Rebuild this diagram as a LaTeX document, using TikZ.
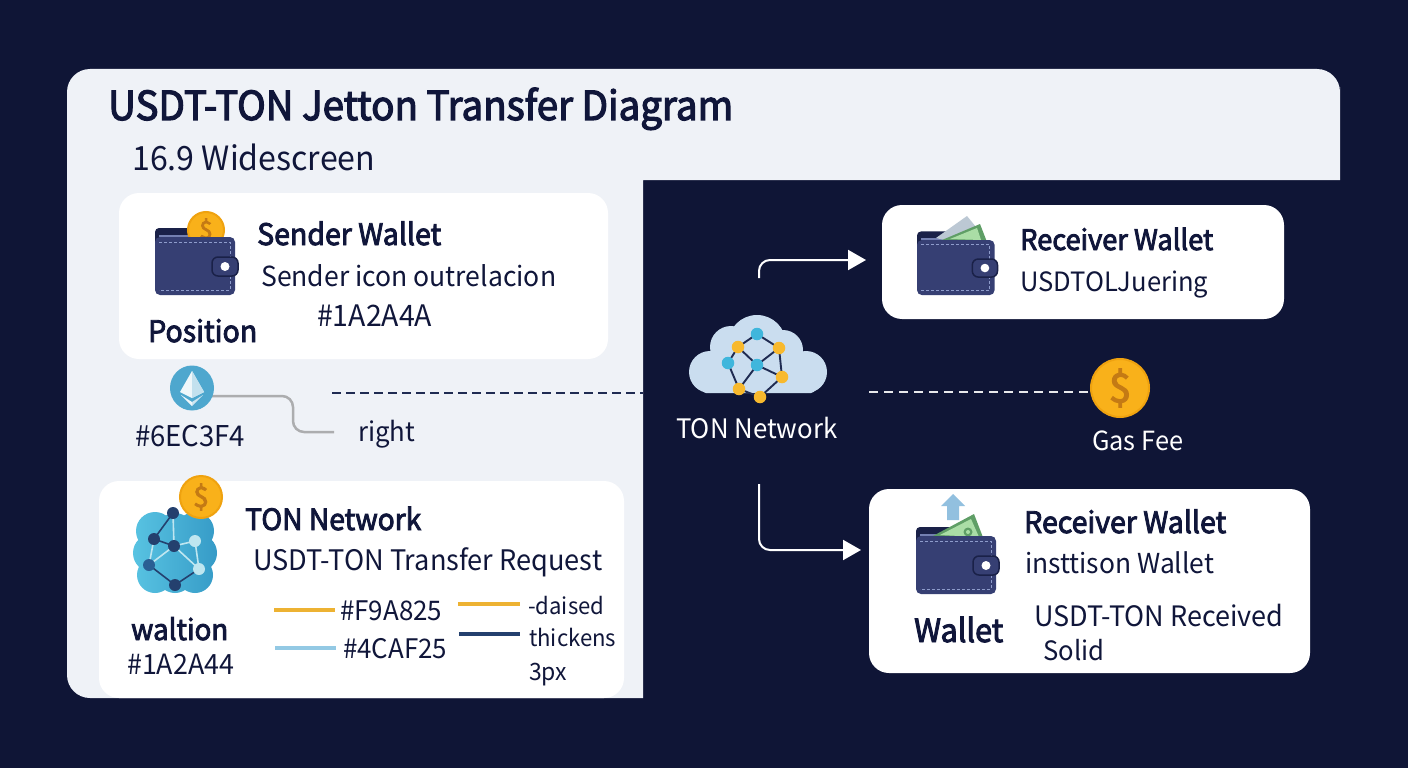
\documentclass[tikz,border=0pt]{standalone}
\usepackage{graphicx}
\usepackage{fontspec}
\setmainfont{Noto Sans CJK SC}[BoldFont={Noto Sans CJK SC},BoldFeatures={FakeBold=3}]
\usetikzlibrary{arrows.meta,shapes.geometric}
\definecolor{bgnavy}{HTML}{0F1536}
\definecolor{panel}{HTML}{EFF2F7}
\definecolor{ink}{HTML}{10163A}
\definecolor{walletblue}{HTML}{363F73}
\definecolor{walletdark}{HTML}{1A2148}
\definecolor{stitch}{HTML}{8E9CCB}
\definecolor{coin}{HTML}{F9B11A}
\definecolor{coinring}{HTML}{EFA20F}
\definecolor{coinmark}{HTML}{C47A14}
\definecolor{billdark}{HTML}{5F9E66}
\definecolor{billlight}{HTML}{AADDA6}
\definecolor{billgray}{HTML}{BCC8D4}
\definecolor{swyellow}{HTML}{EDB232}
\definecolor{swblue}{HTML}{93C9E4}
\definecolor{swnavy}{HTML}{24406E}
\definecolor{cloudlight}{HTML}{CADDEF}
\definecolor{netblue}{HTML}{3FB6DC}
\definecolor{netyellow}{HTML}{F8B92E}
\definecolor{netedge}{HTML}{1F2B52}
\definecolor{blobL}{HTML}{58C3E2}
\definecolor{blobR}{HTML}{369BC7}
\definecolor{blobnode}{HTML}{2A5E94}
\definecolor{blobdark}{HTML}{24406E}
\definecolor{bloblight}{HTML}{BFE6F0}
\newcommand{\fw}[2]{\scalebox{1}[1.04]{\resizebox{#1pt}{!}{#2}}}
\tikzset{
  x=1pt,y=-1pt,
  txt/.style={anchor=base west,inner sep=0pt,text=ink},
  bold/.style={font=\bfseries},
  wtxt/.style={anchor=base west,inner sep=0pt,text=white},
  card/.style={fill=white,rounded corners=20pt},
  swatch/.style={line width=4.5pt},
  netlink/.style={draw=netedge,line width=1.9pt},
  bluedot/.style={circle,fill=netblue,minimum size=12.5pt,inner sep=0pt},
  yellowdot/.style={circle,fill=netyellow,minimum size=12.5pt,inner sep=0pt},
  bdot/.style={circle,fill=blobnode,minimum size=12pt,inner sep=0pt},
  ddot/.style={circle,fill=blobdark,minimum size=12pt,inner sep=0pt},
  ldot/.style={circle,fill=bloblight,minimum size=12pt,inner sep=0pt},
  lightlink/.style={draw=bloblight,line width=1.6pt},
  darklink/.style={draw=blobdark,line width=1.6pt},
  flowarrow/.style={draw=white,line width=2pt,rounded corners=11pt,-{Triangle[length=18pt,width=20pt]}},
  walletback/.pic={
    \fill[walletdark,rounded corners=4pt] (0,-9) rectangle (58,14);
    \fill[stitch!70!walletblue] (4,-2.5) rectangle (52,0);
  },
  walletfront/.pic={
    \fill[walletblue,rounded corners=5pt] (0,0) rectangle (80,58);
    \draw[stitch,line width=.9pt,dash pattern=on 3pt off 2pt] (4,5) -- (75,5) -- (75,53) -- (4,53);
    \fill[walletblue,draw=walletdark,line width=1.5pt,rounded corners=6pt] (57,20) rectangle (83,39);
    \fill[white] (70,29.5) circle (4.5);
  }
}
\newcommand{\coinat}[5]{% name, x, y, diameter, size of mark
  \node[circle,fill=coin,draw=coinring,line width=2pt,minimum size=#4pt,inner sep=0pt,text=coinmark] (#1) at (#2,#3) {\fontsize{#5pt}{#5pt}\selectfont\bfseries\$};
}
\begin{document}
\begin{tikzpicture}
\useasboundingbox (0,0) rectangle (1408,768);
\fill[bgnavy] (0,0) rectangle (1408,768);
% L-shaped panel
\fill[panel,rounded corners=23pt] (67,300) -- (67,69) -- (1340,69) -- (1340,110) [sharp corners] -- (1340,180) -- (643,180) -- (643,698) -- (300,698) [rounded corners=23pt] -- (67,698) -- cycle;
\node[txt,bold] (title) at (108,120) {\fw{625}{USDT-TON Jetton Transfer Diagram}};
\node[txt] (subtitle) at (132,170) {\fw{243}{16.9 Widescreen}};

% Sender card
\fill[card] (119,193) rectangle (608,359);
\pic at (155,237) {walletback};
\coinat{sendercoin}{206}{230}{36}{24}
\pic at (155,237) {walletfront};
\node[txt,bold] (sendername) at (257,245) {\fw{184}{Sender Wallet}};
\node[txt] (senderline) at (261,286) {\fw{295}{Sender icon outrelacion}};
\node[txt] (senderhex) at (317,326) {\fw{115}{\#1A2A4A}};
\node[txt,bold] (position) at (148,342) {\fw{109}{Position}};

% Ethereum badge and its link
\coordinate (linkstart) at (210,396);
\coordinate (linkend) at (334,432);
\draw[draw=gray!60!panel,line width=2.5pt,rounded corners=11pt] (linkstart) -- (293,396) -- (293,432) -- (linkend);
\node[ellipse,fill=blobR!88!white,minimum width=44pt,minimum height=45pt,inner sep=0pt] (eth) at (192,388) {};
\fill[white!92!blobR] (192,371) -- (180,392) -- (192,398) -- (204,392) -- cycle;
\fill[white!70!blobR] (192,371) -- (192,398) -- (204,392) -- cycle;
\fill[white!92!blobR] (181,395) -- (192,402) -- (192,406) -- cycle;
\fill[white!75!blobR] (203,395) -- (192,402) -- (192,406) -- cycle;
\node[txt] (ethhex) at (135,446) {\fw{110}{\#6EC3F4}};
\node[txt] (rightlabel) at (358,441) {\fw{57}{right}};
\coordinate (dashL) at (332,393);
\coordinate (dashR) at (643,393);
\draw[draw=netedge,line width=1.5pt,dash pattern=on 9pt off 5pt] (dashL) -- (dashR);

% TON card
\fill[card] (99,481) rectangle (624,698);
\shade[left color=blobL,right color=blobR]
    (175,531) circle (18) (155,531) circle (19) (195,531) circle (19)
    (152,553) circle (19) (198,553) circle (19) (155,575) circle (18)
    (195,575) circle (18) (175,575) circle (18) (175,553) circle (34);
\coordinate (nA) at (173,513); \coordinate (nB) at (154,539); \coordinate (nC) at (174,546);
\coordinate (nD) at (195,541); \coordinate (nE) at (199,569); \coordinate (nF) at (149,565); \coordinate (nG) at (175,585);
\draw[darklink] (nA) -- (nB) (nB) -- (nC) (nF) -- (nG) (nG) -- (nE);
\draw[lightlink] (nA) -- (nC) (nB) -- (nF) (nC) -- (nF) (nC) -- (nD) (nC) -- (nE) (nD) -- (nE);
\node[ddot] at (nA) {}; \node[ddot] at (nB) {}; \node[ddot] at (nC) {};
\node[ldot] at (nD) {}; \node[ldot] at (nE) {}; \node[bdot] at (nF) {}; \node[ddot] at (nG) {};
\coinat{toncoin}{201}{497}{42}{28}
\node[txt,bold] (tonname) at (245,530) {\fw{176}{TON Network}};
\node[txt] (tonline) at (253,570) {\fw{349}{USDT-TON Transfer Request}};
\node[txt,bold] (waltion) at (131,640) {\fw{97}{waltion}};
\node[txt] (tonhex) at (127,674) {\fw{107}{\#1A2A44}};
\draw[swatch,swyellow] (274,610) -- (335,610);
\node[txt] (hexa) at (340,620) {\fw{102}{\#F9A825}};
\draw[swatch,swblue] (275,648) -- (336,648);
\node[txt] (hexb) at (343,658) {\fw{104}{\#4CAF25}};
\draw[swatch,swyellow] (458,604) -- (520,604);
\node[txt] (daised) at (528,614) {\fw{76}{-daised}};
\draw[swatch,swnavy] (459,634) -- (520,634);
\node[txt] (thickens) at (529,646) {\fw{87}{thickens}};
\node[txt] (threepx) at (529,680) {\fw{38}{3px}};

% Network cloud
\fill[cloudlight] (710,372) circle (21) (806,372) circle (21) (731,347) circle (21)
  (757,344) circle (29) (783,350) circle (20);
\fill[cloudlight,rounded corners=4pt] (702,355) rectangle (815,393);
\coordinate (c1) at (757,334); \coordinate (c2) at (738,347); \coordinate (c3) at (779,348);
\coordinate (c4) at (728,363); \coordinate (c5) at (757,365); \coordinate (c6) at (782,377);
\coordinate (c7) at (739,389); \coordinate (c8) at (760,397);
\draw[netlink] (c1) -- (c2) (c1) -- (c3) (c2) -- (c4) (c2) -- (c5) (c3) -- (c5) (c3) -- (c6)
  (c5) -- (c6) (c5) -- (c7) (c4) -- (c7) (c7) -- (c8) (c6) -- (c8);
\node[bluedot] at (c1) {}; \node[yellowdot] at (c2) {}; \node[yellowdot] at (c3) {};
\node[bluedot] at (c4) {}; \node[bluedot] at (c5) {}; \node[yellowdot] at (c6) {};
\node[yellowdot] at (c7) {}; \node[yellowdot] at (c8) {};
\node[wtxt] (netlabel) at (676,438) {\fw{161}{TON Network}};

% Receiver card, top
\fill[card] (882,205) rectangle (1284,319);
\pic[xscale=.97,yscale=.95] at (917,240) {walletback};
\fill[billgray] (936,238) -- (967,216) -- (976,227) -- (953,242) -- cycle;
\fill[billdark] (942,240) -- (980,224) -- (987,242) -- cycle;
\fill[billlight] (950,239) -- (977,228) -- (981,240) -- cycle;
\pic[xscale=.97,yscale=.95] at (917,240) {walletfront};
\node[txt] (topname) at (1020,250) {\fw{193}{\textbf{Receiver Wallet}}};
\node[txt] (topline) at (1020,291) {\fw{188}{USDTOLJuering}};

% Gas fee
\coinat{gascoin}{1120}{388}{58}{40}
\coordinate (gasL) at (869,392);
\draw[draw=white!90!bgnavy,line width=1.6pt,dash pattern=on 9pt off 6pt] (gasL) -- (gascoin.west |- gasL);
\node[wtxt] (gaslabel) at (1092,450) {\fw{91}{Gas Fee}};

% Receiver card, bottom
\fill[card] (869,489) rectangle (1310,673);
\fill[swblue!80!stitch] (953,494) -- (965,506) -- (959,506) -- (959,520) -- (947,520) -- (947,506) -- (941,506) -- cycle;
\pic at (916,536) {walletback};
\fill[billdark] (931,537) -- (974,514) -- (984,540) -- cycle;
\fill[billlight] (940,535) -- (971,519) -- (979,537) -- cycle;
\fill[billdark] (968,532) circle (4.5);
\fill[billlight] (968,532) circle (2);
\pic at (916,536) {walletfront};
\node[txt,bold] (botname) at (1024,533) {\fw{202}{Receiver Wallet}};
\node[txt] (botline) at (1025,573) {\fw{189}{insttison Wallet}};
\node[txt] (botrecv) at (1034,626) {\fw{249}{USDT-TON Received}};
\node[txt] (botsolid) at (1043,660) {\fw{61}{Solid}};
\node[txt,bold] (botwallet) at (914,642) {\fw{89}{Wallet}};

% Flow arrows
\coordinate (upstart) at (759,278);
\coordinate (upend) at (866,260);
\coordinate (downstart) at (759,484);
\coordinate (downend) at (861,550);
\draw[flowarrow] (upstart) -- (upstart |- upend) -- (upend);
\draw[flowarrow] (downstart) -- (downstart |- downend) -- (downend);
\end{tikzpicture}
\end{document}
